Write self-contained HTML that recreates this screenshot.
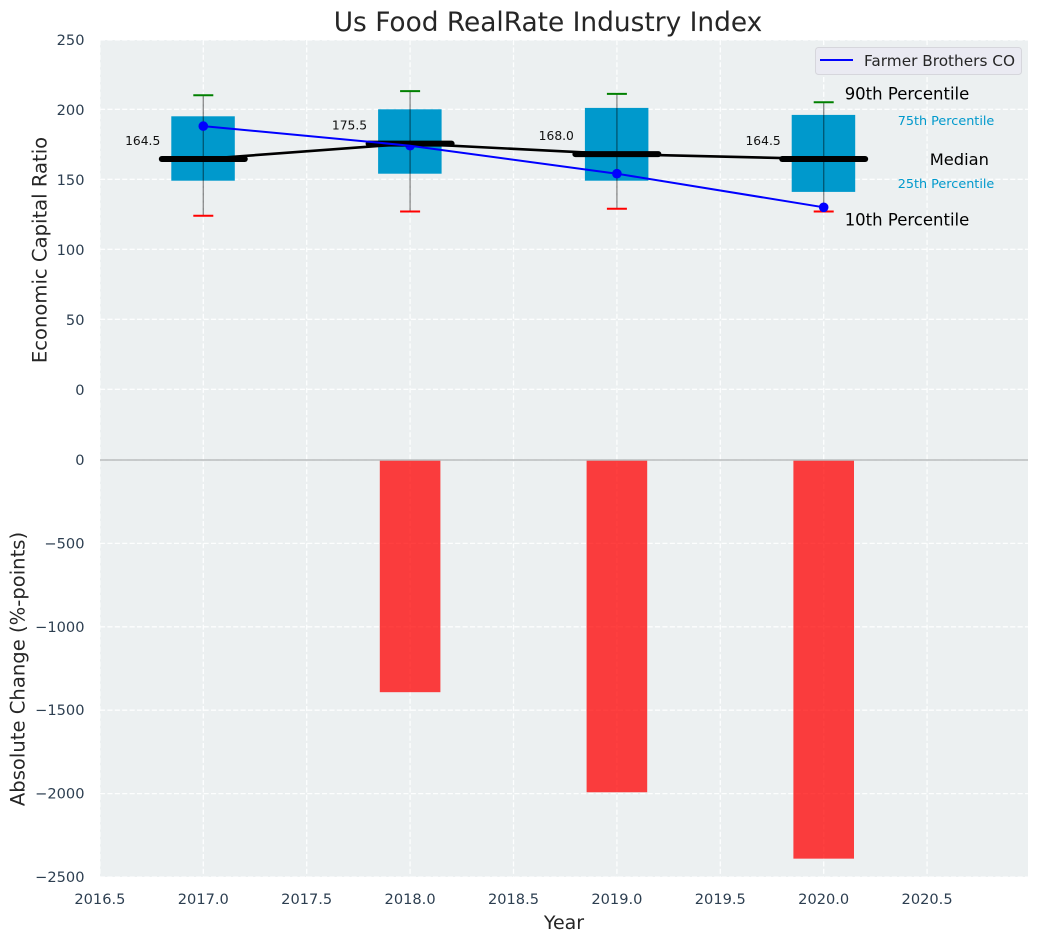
<!DOCTYPE html>
<html>
<head>
<meta charset="utf-8">
<title>Us Food RealRate Industry Index</title>
<style>
html,body{margin:0;padding:0;background:#fff;width:1039px;height:942px;overflow:hidden}
svg{display:block}
text{font-family:"DejaVu Sans","Liberation Sans",sans-serif}
</style>
</head>
<body>
<svg id="chart" xmlns="http://www.w3.org/2000/svg" width="1039" height="942" viewBox="0 0 1039 942"></svg>
<script>
const years = [2017, 2018, 2019, 2020];
const p10 = [124, 127, 129, 127];
const p25 = [149, 154, 149, 141];
const medians = [164.5, 175.5, 168.0, 164.5];
const p75 = [195, 200, 201, 196];
const p90 = [210, 213, 211, 205];
const companyValues = [188, 174, 154, 130];
const changeYears = [2018, 2019, 2020];
const changeValues = [-1392, -1992, -2390];
const xTicks = [2016.5, 2017.0, 2017.5, 2018.0, 2018.5, 2019.0, 2019.5, 2020.0, 2020.5];
const topTicks = [0, 50, 100, 150, 200, 250];
const bottomTicks = [0, -500, -1000, -1500, -2000, -2500];
const seriesName = 'Farmer Brothers CO';

const NS = 'http://www.w3.org/2000/svg';
const svg = document.getElementById('chart');
function x(v){ return 203.3 + (v - 2017) * 206.8; }
function yTop(v){ return 389.3 - v * 1.4; }
function yBottom(v){ return 460 - v * 0.1668; }
function make(tag, attrs, text){
  const el = document.createElementNS(NS, tag);
  for (const k in attrs) el.setAttribute(k, attrs[k]);
  if (text !== undefined) el.textContent = text;
  svg.appendChild(el);
  return el;
}
function fmt(v){ return String(v).replace('-', '\u2212'); }
const BOX = '#0099cc', GRID = '#ffffff', BG = '#ecf0f1', TICK = '#2c3e50', LABEL = '#262626';
const L = 100, R = 1028;
const DASH = '5.1 2.3';

let el;
el = make('rect', {x:L, y:40, width:R-L, height:420, fill:BG});


el = make('rect', {x:L, y:460, width:R-L, height:417, fill:BG});



// gridlines
xTicks.forEach(function(t){
  const g = make('line', {x1:x(t), x2:x(t), y1:40, y2:877, stroke:GRID, 'stroke-width':1.3, 'stroke-dasharray':DASH, 'stroke-opacity':0.9});
  
  
  const lab = make('text', {x:x(t), y:904, 'text-anchor':'middle', 'font-size':14.6, fill:TICK}, t.toFixed(1));
  
  
});
topTicks.forEach(function(t){
  const g = make('line', {x1:L, x2:R, y1:Math.max(40, yTop(t)), y2:Math.max(40, yTop(t)), stroke:GRID, 'stroke-width':1.3, 'stroke-dasharray':DASH, 'stroke-opacity':0.9});
  
  
  const lab = make('text', {x:84.5, y:yTop(t)+5.5, 'text-anchor':'end', 'font-size':14.6, fill:TICK}, fmt(t));
  
  
});
bottomTicks.forEach(function(t){
  const g = make('line', {x1:L, x2:R, y1:yBottom(t), y2:yBottom(t), stroke:GRID, 'stroke-width':1.3, 'stroke-dasharray':DASH, 'stroke-opacity':0.9});
  
  
  const lab = make('text', {x:84.5, y:yBottom(t)+5, 'text-anchor':'end', 'font-size':14.6, fill:TICK}, fmt(t));
  
  
});

// change bars
changeYears.forEach(function(yr, i){
  const top = yBottom(0), bot = yBottom(changeValues[i]);
  const b = make('rect', {x:x(yr)-30.3, y:top, width:60.6, height:bot-top, fill:'#ff0000', 'fill-opacity':0.75});
  
  
});
el = make('line', {x1:L, x2:R, y1:460, y2:460, stroke:'#b9bcbd', 'stroke-width':1.5});



// boxes and whiskers
years.forEach(function(yr, i){
  const cx = x(yr);
  const b = make('rect', {x:cx-32, y:yTop(p75[i]), width:63.5, height:yTop(p25[i])-yTop(p75[i]), fill:BOX});
  
  
  const w = make('line', {x1:cx, x2:cx, y1:yTop(p90[i]), y2:yTop(p10[i]), stroke:'#000', 'stroke-opacity':0.42, 'stroke-width':1.4});
  
  
  const c1 = make('line', {x1:cx-10, x2:cx+10, y1:yTop(p90[i]), y2:yTop(p90[i]), stroke:'#008000', 'stroke-width':2});
  
  
  const c2 = make('line', {x1:cx-10, x2:cx+10, y1:yTop(p10[i]), y2:yTop(p10[i]), stroke:'#ff0000', 'stroke-width':2});
  
  
  const m = make('circle', {cx:cx, cy:yTop(companyValues[i]), r:4.8, fill:'#0000ff'});
  
  
});

// median segments, connecting line and company line
years.forEach(function(yr, i){
  const cx = x(yr);
  const s = make('line', {x1:cx-41.5, x2:cx+41.5, y1:yTop(medians[i]), y2:yTop(medians[i]), stroke:'#000', 'stroke-width':6, 'stroke-linecap':'round'});
  
  
  const t = make('text', {x:cx-43, y:yTop(medians[i])-14, 'text-anchor':'end', 'font-size':12.3, fill:'#111'}, medians[i].toFixed(1));
  
  
});
el = make('polyline', {points:years.map(function(yr,i){return x(yr)+','+yTop(medians[i]);}).join(' '), fill:'none', stroke:'#000', 'stroke-width':2.6});


el = make('polyline', {points:years.map(function(yr,i){return x(yr)+','+yTop(companyValues[i]);}).join(' '), fill:'none', stroke:'#0000ff', 'stroke-width':2});



// percentile annotations, anchored to the last year
const last = years.length - 1;
const lastX = x(years[last]);
el = make('text', {x:lastX+21, y:yTop(p90[last])-3, 'font-size':16.5, fill:'#000'}, '90th Percentile');


el = make('text', {x:lastX+74, y:yTop(p75[last])+10, 'font-size':12.8, fill:BOX}, '75th Percentile');


el = make('text', {x:lastX+106, y:yTop(medians[last])+6, 'font-size':16.3, fill:'#000'}, 'Median');


el = make('text', {x:lastX+74, y:yTop(p25[last])-4, 'font-size':12.8, fill:BOX}, '25th Percentile');


el = make('text', {x:lastX+21, y:yTop(p10[last])+14, 'font-size':16.5, fill:'#000'}, '10th Percentile');



// legend
el = make('rect', {x:815.5, y:47.5, width:206, height:27, rx:3, fill:'#eaeaf2', stroke:'#d6d6dc', 'stroke-width':1});


el = make('line', {x1:820, x2:853, y1:60, y2:60, stroke:'#0000ff', 'stroke-width':2});


el = make('text', {x:864, y:66, 'font-size':15.3, fill:LABEL}, seriesName);



// titles
el = make('text', {x:548, y:31, 'text-anchor':'middle', 'font-size':26.4, fill:LABEL}, 'Us Food RealRate Industry Index');


el = make('text', {x:564, y:929, 'text-anchor':'middle', 'font-size':19, fill:LABEL}, 'Year');


el = make('text', {x:0, y:0, transform:'translate(46.5 250) rotate(-90)', 'text-anchor':'middle', 'font-size':19.6, fill:LABEL}, 'Economic Capital Ratio');


el = make('text', {x:0, y:0, transform:'translate(24.5 669) rotate(-90)', 'text-anchor':'middle', 'font-size':19.6, fill:LABEL}, 'Absolute Change (%-points)');


</script>
</body>
</html>
